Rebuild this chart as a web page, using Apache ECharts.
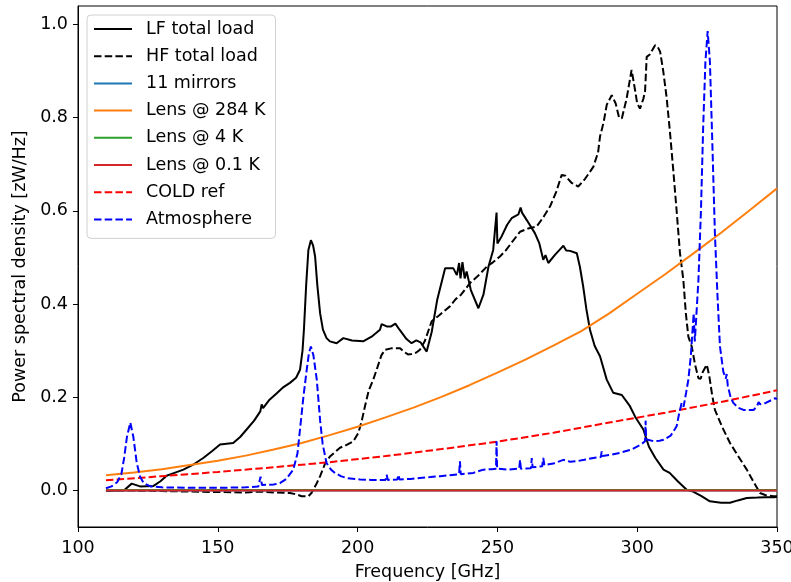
<!DOCTYPE html>
<html>
<head>
<meta charset="utf-8">
<script src="https://cdn.jsdelivr.net/npm/echarts@6/dist/echarts.min.js"></script>
<style>html,body{margin:0;padding:0;background:#fff;}#c{width:791px;height:582px;}</style>
</head>
<body>
<div id="c"></div>
<script>
// ---- data (frequency GHz, PSD zW/Hz) ----
const seriesNames = ['LF total load','HF total load','11 mirrors','Lens @ 284 K','Lens @ 4 K','Lens @ 0.1 K','COLD ref','Atmosphere'];
const xTicks = [100,150,200,250,300,350];
const yTicks = [0,0.2,0.4,0.6,0.8,1.0];

const lfLoad = [[110,-0.001],[114,0.0],[116.5,0.001],[119.2,0.015],[122.2,0.009],[127,0.010],[129.5,0.02],[131.7,0.032],[134,0.037],[137.7,0.045],[141,0.055],[144.8,0.070],[148,0.085],[150.8,0.099],[155.5,0.102],[158,0.115],[160.3,0.131],[163,0.150],[165.2,0.17],[165.7,0.185],[166.2,0.177],[168.5,0.195],[171.1,0.209],[173.5,0.222],[175.8,0.231],[178,0.242],[179.4,0.259],[180.3,0.30],[180.8,0.345],[181.6,0.44],[182.4,0.516],[183.3,0.537],[184.1,0.525],[184.8,0.502],[185.6,0.44],[186.6,0.380],[187.6,0.345],[188.9,0.327],[190.1,0.320],[192.5,0.316],[194.9,0.327],[198,0.322],[202,0.320],[205,0.330],[208,0.345],[208.6,0.357],[210.4,0.352],[212,0.352],[213.5,0.358],[215,0.345],[217.5,0.325],[219.3,0.316],[221,0.322],[222.5,0.318],[224.7,0.298],[226.5,0.34],[228.5,0.41],[231.3,0.477],[234.2,0.477],[235.5,0.462],[236.3,0.488],[236.8,0.455],[237.5,0.49],[238.3,0.455],[239,0.47],[240.5,0.43],[243.2,0.391],[245,0.42],[246.8,0.48],[248.5,0.516],[249.2,0.52],[249.7,0.596],[250.0,0.53],[251.5,0.545],[253.5,0.570],[255.1,0.584],[257.5,0.592],[258.3,0.607],[258.8,0.596],[260.5,0.580],[263.4,0.552],[265,0.53],[266.4,0.495],[267.2,0.505],[268.2,0.488],[270.5,0.505],[272.8,0.52],[273.6,0.525],[274.6,0.515],[276,0.514],[278.4,0.509],[279.5,0.48],[280.7,0.437],[281.8,0.39],[283.1,0.345],[284.8,0.31],[286.7,0.288],[289.1,0.238],[291.4,0.21],[294.5,0.205],[297.4,0.181],[299.3,0.158],[302.2,0.131],[304.2,0.094],[306.5,0.07],[309.4,0.045],[311.6,0.038],[314.5,0.02],[317.7,0.002],[320,-0.002],[323,-0.012],[326,-0.023],[330,-0.026],[333.2,-0.026],[336,-0.021],[339.2,-0.016],[343,-0.015],[346,-0.014],[349.3,-0.014],[350,-0.013]];

const hfLoad = [[110,0.0],[120,0.0],[130,-0.001],[140,-0.002],[150,-0.003],[160,-0.004],[165,-0.002],[170,-0.004],[175.8,-0.005],[178,-0.008],[180,-0.012],[182.4,-0.012],[183.5,-0.005],[185.4,0.016],[186.6,0.031],[188.5,0.06],[190.1,0.073],[193.7,0.092],[196.1,0.098],[198.5,0.106],[200.3,0.124],[201.5,0.15],[202.6,0.18],[204,0.215],[205.6,0.238],[206.8,0.259],[208.5,0.29],[209.8,0.302],[212,0.305],[214,0.305],[215.2,0.305],[216.5,0.298],[218,0.292],[219.3,0.293],[221,0.296],[222.3,0.302],[224,0.32],[226.5,0.363],[229,0.375],[231,0.385],[233,0.395],[235,0.41],[237,0.42],[240.2,0.445],[243,0.46],[246.2,0.480],[248.5,0.49],[250.9,0.502],[253,0.515],[255.5,0.535],[258.1,0.555],[261,0.562],[264.0,0.566],[266.3,0.585],[268.8,0.609],[271,0.64],[273.0,0.677],[274.3,0.675],[276.5,0.66],[278.9,0.652],[281.3,0.668],[284.3,0.694],[286.0,0.725],[286.7,0.759],[288,0.79],[289.1,0.827],[290.9,0.848],[292.3,0.83],[293.5,0.80],[294.5,0.798],[296.2,0.84],[298.0,0.902],[299.2,0.86],[300,0.83],[301.0,0.819],[302.2,0.84],[302.8,0.855],[303.4,0.930],[304.5,0.935],[306.4,0.955],[307.3,0.952],[308.2,0.941],[309.3,0.90],[310.5,0.844],[311.7,0.77],[312.9,0.687],[314.1,0.6],[315.3,0.509],[316.5,0.452],[317.4,0.38],[318.3,0.330],[319.5,0.309],[320.7,0.27],[321.9,0.241],[322.7,0.240],[323.5,0.255],[324.9,0.270],[325.8,0.245],[326.8,0.205],[327.8,0.173],[330.5,0.135],[333.2,0.102],[336,0.075],[339.2,0.045],[341.5,0.02],[343.9,-0.005],[346,-0.01],[348.7,-0.012],[350,-0.012]];

const mirrors11 = [[110,0.0],[170,0.0],[230,0.0],[290,0.0],[350,0.0]];

const lens284K = [[110,0.033],[120,0.039],[130,0.046],[140,0.055],[150,0.064],[160,0.075],[170,0.088],[180,0.102],[190,0.119],[200,0.137],[210,0.157],[220,0.178],[230,0.201],[240,0.226],[250,0.253],[260,0.281],[270,0.311],[280,0.342],[290,0.380],[300,0.422],[310,0.464],[320,0.508],[330,0.553],[340,0.600],[350,0.648]];

const lens4K = [[110,0.0015],[170,0.0015],[230,0.0015],[290,0.0015],[350,0.0015]];

const lens01K = [[110,0.0],[170,0.0],[230,0.0],[290,0.0],[350,0.0]];

const coldRef = [[110,0.022],[130,0.031],[150,0.040],[170,0.050],[190,0.061],[210,0.074],[230,0.089],[250,0.105],[270,0.124],[290,0.146],[310,0.167],[330,0.190],[350,0.215]];

const atmosphere = [[110,0.005],[112,0.009],[114,0.018],[115.5,0.035],[116.5,0.07],[117.5,0.115],[118.7,0.146],[119.8,0.115],[121,0.06],[122.2,0.03],[123.5,0.016],[126,0.009],[130,0.007],[140,0.006],[150,0.006],[160,0.007],[164.5,0.009],[165.3,0.03],[165.8,0.012],[170,0.013],[172.2,0.016],[174.5,0.025],[177,0.045],[178.5,0.08],[179.4,0.131],[180.6,0.2],[181.8,0.259],[182.6,0.295],[183.3,0.309],[184.2,0.29],[185.4,0.238],[186.6,0.15],[187.5,0.10],[188.9,0.059],[190.5,0.045],[191.9,0.038],[194,0.031],[196.1,0.027],[200.9,0.024],[205,0.023],[210,0.023],[210.4,0.034],[210.8,0.023],[214.2,0.024],[214.6,0.034],[215,0.024],[219,0.025],[222.3,0.027],[226,0.029],[229.5,0.031],[233,0.033],[236.3,0.035],[236.6,0.063],[236.9,0.035],[241.4,0.038],[245,0.045],[248,0.046],[249.5,0.047],[249.7,0.106],[249.9,0.047],[253.3,0.045],[257.8,0.047],[258.1,0.066],[258.4,0.047],[262,0.048],[262.3,0.07],[262.6,0.05],[266,0.052],[266.4,0.07],[266.8,0.055],[270,0.058],[273.6,0.066],[276,0.062],[278.4,0.063],[281,0.066],[284.3,0.07],[287,0.072],[287.3,0.084],[287.6,0.074],[290.9,0.077],[293.8,0.081],[298,0.088],[301.6,0.1],[302.8,0.106],[303.0,0.15],[303.2,0.11],[305.8,0.106],[308,0.107],[309.4,0.109],[312,0.118],[314.1,0.138],[315.0,0.165],[315.9,0.188],[316.6,0.18],[317.5,0.21],[318.3,0.238],[319.2,0.29],[319.8,0.345],[320.2,0.38],[320.6,0.32],[321.3,0.39],[321.9,0.452],[322.8,0.6],[323.6,0.78],[324.4,0.92],[325.2,0.985],[326.0,0.92],[326.8,0.76],[327.8,0.55],[328.7,0.42],[329.6,0.309],[330.8,0.255],[331.7,0.24],[332.0,0.25],[332.4,0.225],[333.4,0.2],[334.4,0.188],[336,0.178],[338,0.173],[341.6,0.173],[342.8,0.18],[343.4,0.19],[344,0.185],[346,0.188],[349.3,0.198],[350,0.196]];

// ---- chart ----
const FONT = 'DejaVu Sans';
const FS = 17.5;
const DASH = [7.5, 3.2];
const chart = echarts.init(document.getElementById('c'), null, {renderer: 'canvas'});

function line(name, data, color, dashed) {
  return {
    name: name, type: 'line', data: data, symbol: 'none', showSymbol: false,
    smooth: false, animation: false, silent: true,
    lineStyle: {color: color, width: 2, type: dashed ? DASH : 'solid'},
    itemStyle: {color: color}
  };
}

chart.setOption({
  animation: false,
  backgroundColor: '#fff',
  textStyle: {fontFamily: FONT, color: '#000'},
  grid: {left: 78, right: 14, top: 6, bottom: 55, show: true, borderColor: '#000', borderWidth: 1, backgroundColor: 'transparent', containLabel: false, outerBoundsMode: 'none'},
  legend: {
    show: true, orient: 'vertical', left: 87, top: 15,
    data: seriesNames,
    itemWidth: 38, itemHeight: 18, itemGap: 9.2,
    padding: [5, 10, 10, 6],
    itemStyle: {opacity: 0, borderWidth: 0},
    backgroundColor: 'rgba(255,255,255,0.8)', borderColor: '#d0d0d0', borderWidth: 1, borderRadius: 4,
    textStyle: {fontFamily: FONT, fontSize: FS, lineHeight: 18, color: '#000', padding: [0, 0, 0, 9]}
  },
  xAxis: {
    type: 'value', min: 100, max: 350, interval: 50,
    name: 'Frequency [GHz]', nameLocation: 'middle', nameGap: 36,
    nameTextStyle: {fontFamily: FONT, fontSize: FS, color: '#000'},
    axisLine: {show: true, onZero: false, lineStyle: {color: '#000', width: 1}},
    axisTick: {show: true, length: 5, inside: false, lineStyle: {color: '#000', width: 1}},
    axisLabel: {show: true, margin: 12, fontFamily: FONT, fontSize: FS, color: '#000', customValues: xTicks},
    splitLine: {show: false}
  },
  yAxis: {
    type: 'value', min: -0.078, max: 1.039,
    name: 'Power spectral density [zW/Hz]', nameLocation: 'middle', nameGap: 48, nameRotate: 90,
    nameTextStyle: {fontFamily: FONT, fontSize: FS, color: '#000'},
    axisLine: {show: true, onZero: false, lineStyle: {color: '#000', width: 1}},
    axisTick: {show: true, length: 5, inside: false, customValues: yTicks, lineStyle: {color: '#000', width: 1}},
    axisLabel: {show: true, margin: 10, fontFamily: FONT, fontSize: FS, color: '#000', customValues: yTicks, formatter: v => v.toFixed(1)},
    splitLine: {show: false}
  },
  series: [
    line(seriesNames[0], lfLoad, '#000000', false),
    line(seriesNames[1], hfLoad, '#000000', true),
    line(seriesNames[2], mirrors11, '#1f77b4', false),
    line(seriesNames[3], lens284K, '#ff7f0e', false),
    line(seriesNames[4], lens4K, '#2ca02c', false),
    line(seriesNames[5], lens01K, '#d62728', false),
    line(seriesNames[6], coldRef, '#ff0000', true),
    line(seriesNames[7], atmosphere, '#0000ff', true)
  ]
});
</script>
</body>
</html>
